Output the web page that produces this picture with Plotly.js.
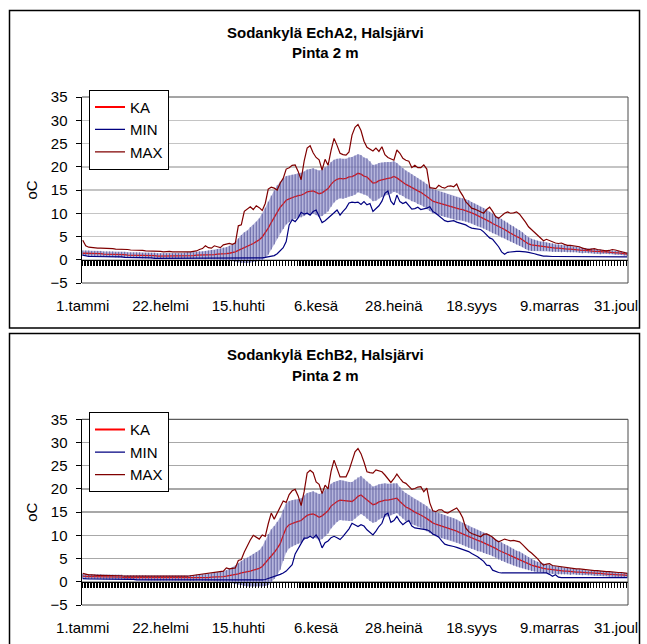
<!DOCTYPE html>
<html>
<head>
<meta charset="utf-8">
<script src="https://cdn.plot.ly/plotly-3.0.1.min.js"></script>
<style>html,body{margin:0;padding:0;background:#fff;}#chart{width:647px;height:644px;}</style>
</head>
<body>
<div id="chart"></div>
<script>
// ---------- DATA (values read every 2nd day: day 1, 3, 5, ..., 365) ----------
const tickDays = [1, 53, 105, 157, 209, 261, 313, 365];
const tickLabels = ["1.tammi", "22.helmi", "15.huhti", "6.kesä", "28.heinä", "18.syys", "9.marras", "31.joul"];
const seriesNames = ["KA", "MIN", "MAX"];
const titleA = ["Sodankylä EchA2, Halsjärvi", "Pinta 2 m"];
const titleB = ["Sodankylä EchB2, Halsjärvi", "Pinta 2 m"];

const A_KA = [
 1.4,1.4,1.4,1.3,1.3,1.3,1.3,1.2,1.2,1.2,
 1.2,1.1,1.1,1.1,1.1,1.0,1.0,1.0,1.0,1.0,
 0.9,0.9,0.9,0.9,0.9,0.8,0.8,0.8,0.8,0.8,
 0.8,0.8,0.8,0.8,0.9,0.9,0.9,0.9,1.0,1.0,
 1.0,1.0,1.1,1.1,1.1,1.2,1.2,1.3,1.3,1.4,
 1.5,1.7,2.0,2.3,2.6,2.8,3.2,3.5,3.9,4.3,
 4.9,5.8,6.8,8.0,9.1,10.3,11.3,12.0,12.8,13.1,
 13.4,13.6,13.8,13.9,14.2,14.6,14.7,14.8,14.5,14.2,
 14.4,14.9,15.3,16.2,16.9,17.3,17.5,17.4,17.5,17.8,
 17.9,18.2,18.6,18.4,18.0,17.8,17.2,16.5,16.6,17.0,
 17.2,17.4,17.5,17.6,17.9,17.6,17.1,16.7,16.2,15.9,
 15.5,15.2,14.8,14.5,14.1,13.6,13.1,12.6,12.4,12.2,
 12.0,11.8,11.6,11.4,11.2,11.0,10.9,10.8,10.6,10.4,
 10.1,9.8,9.5,9.2,8.9,8.6,8.2,7.8,7.5,7.2,
 6.8,6.5,6.1,5.7,5.4,5.0,4.7,4.3,3.8,3.4,
 3.2,3.1,3.0,2.9,2.9,2.8,2.7,2.6,2.5,2.5,
 2.4,2.4,2.3,2.3,2.2,2.2,2.1,2.0,2.0,1.9,
 1.9,1.8,1.8,1.7,1.7,1.7,1.6,1.6,1.5,1.5,
 1.4,1.3,1.2];
const A_SD = [
 0.6,0.6,0.6,0.6,0.6,0.6,0.6,0.6,0.6,0.6,
 0.6,0.6,0.6,0.6,0.6,0.6,0.6,0.6,0.6,0.6,
 0.6,0.6,0.6,0.6,0.6,0.6,0.6,0.6,0.6,0.6,
 0.6,0.6,0.6,0.6,0.6,0.7,0.7,0.7,0.7,0.8,
 0.8,0.9,0.9,1.0,1.0,1.1,1.2,1.3,1.4,1.6,
 1.8,2.1,2.6,3.0,3.3,3.5,3.8,4.0,4.3,4.6,
 5.0,5.4,5.7,5.8,5.8,5.7,5.5,5.4,5.2,5.0,
 4.9,4.8,4.8,4.8,4.8,4.8,4.8,4.9,4.9,5.0,
 5.0,5.0,4.9,4.8,4.6,4.4,4.3,4.3,4.2,4.2,
 4.2,4.2,4.1,4.1,4.0,4.0,4.0,3.9,3.9,3.8,
 3.7,3.6,3.5,3.4,3.3,3.2,3.1,3.0,3.0,2.9,
 2.9,2.8,2.8,2.7,2.7,2.7,2.6,2.6,2.6,2.6,
 2.6,2.6,2.5,2.5,2.5,2.5,2.4,2.4,2.4,2.4,
 2.3,2.3,2.3,2.2,2.2,2.2,2.1,2.1,2.0,2.0,
 2.0,1.9,1.9,1.8,1.8,1.7,1.7,1.6,1.5,1.4,
 1.3,1.2,1.1,1.0,1.0,0.9,0.9,0.9,0.8,0.8,
 0.8,0.7,0.7,0.7,0.6,0.6,0.6,0.6,0.5,0.5,
 0.5,0.5,0.5,0.5,0.4,0.4,0.4,0.4,0.4,0.4,
 0.4,0.4,0.4];
const A_MIN = [
 1.0,0.8,0.7,0.7,0.7,0.6,0.6,0.6,0.6,0.6,
 0.6,0.6,0.6,0.6,0.5,0.5,0.5,0.5,0.5,0.5,
 0.5,0.5,0.4,0.4,0.3,0.3,0.3,0.3,0.3,0.3,
 0.3,0.3,0.3,0.3,0.3,0.3,0.3,0.3,0.3,0.3,
 0.3,0.3,0.3,0.3,0.3,0.3,0.3,0.3,0.3,0.3,
 0.3,0.3,0.3,0.3,0.3,0.3,0.3,0.3,0.3,0.3,
 0.4,0.5,0.6,0.7,0.9,1.3,1.9,2.6,3.9,7.5,
 8.6,8.2,9.0,10.2,9.8,10.0,9.6,10.4,10.7,9.3,
 8.0,8.4,8.9,9.6,10.1,10.7,9.6,10.4,11.1,12.2,
 12.4,12.3,12.4,11.9,12.5,11.8,12.1,10.4,11.0,11.6,
 12.6,14.3,14.8,12.6,11.8,13.9,12.5,12.1,12.4,11.6,
 10.9,11.0,11.3,10.8,10.9,11.1,11.4,10.4,10.0,9.5,
 9.0,8.4,8.2,8.3,8.4,8.1,7.9,7.7,7.5,7.1,
 6.8,6.7,6.6,6.5,6.0,5.3,4.7,4.4,3.7,2.8,
 1.7,1.2,1.6,1.7,1.8,1.8,1.8,1.8,1.7,1.6,
 1.5,1.3,1.1,0.9,0.8,0.8,0.7,0.7,0.7,0.7,
 0.7,0.7,0.7,0.6,0.6,0.6,0.6,0.6,0.6,0.6,
 0.6,0.6,0.6,0.6,0.6,0.6,0.6,0.6,0.6,0.6,
 0.6,0.6,0.6];
const A_MAX = [
 4.2,3.0,2.7,2.6,2.6,2.5,2.5,2.5,2.4,2.4,
 2.4,2.3,2.3,2.3,2.2,2.2,2.1,2.1,2.0,2.0,
 2.0,1.9,1.9,1.8,1.8,1.8,1.8,1.7,1.8,1.8,
 1.7,1.7,1.6,1.6,1.6,1.6,1.7,1.8,1.9,2.2,
 2.4,3.0,2.6,2.5,3.0,2.8,2.6,3.2,3.4,3.5,
 3.3,3.6,7.3,7.5,10.4,11.0,11.4,10.8,11.6,11.2,
 10.6,12.1,15.2,15.6,15.4,15.0,16.5,17.5,19.5,19.8,
 20.3,20.4,19.0,17.2,21.2,24.0,24.5,23.0,22.0,21.5,
 19.3,21.6,20.3,23.5,26.1,24.6,22.9,22.6,22.5,23.2,
 26.8,28.5,29.1,27.8,25.5,24.2,23.7,23.4,24.0,23.3,
 24.3,22.6,22.0,21.7,21.4,23.6,22.9,21.8,21.4,21.2,
 19.8,20.3,19.8,19.8,20.4,19.5,15.5,15.4,15.3,16.0,
 15.6,15.4,15.8,15.9,15.7,16.3,14.8,13.8,12.5,11.8,
 11.1,10.9,10.6,10.3,10.0,10.8,11.3,10.4,9.3,8.9,
 9.5,10.0,10.3,10.0,10.1,10.3,9.8,9.0,8.1,7.1,
 6.5,5.8,5.2,4.5,4.1,4.4,4.1,3.9,3.6,3.5,
 3.6,3.3,3.1,3.1,3.0,2.9,2.8,2.5,2.4,2.2,
 2.3,2.4,2.2,2.1,2.0,1.9,2.0,2.2,2.1,1.9,
 1.8,1.6,1.4];

const B_KA = [
 1.2,1.1,1.1,1.1,1.1,1.1,1.1,1.0,1.0,1.0,
 1.0,1.0,1.0,1.0,0.9,0.9,0.9,0.9,0.9,0.9,
 0.9,0.9,0.8,0.8,0.8,0.8,0.8,0.8,0.8,0.8,
 0.8,0.8,0.8,0.8,0.8,0.8,0.8,0.8,0.9,0.9,
 0.9,0.9,0.9,1.0,1.0,1.0,1.1,1.1,1.2,1.3,
 1.4,1.5,1.7,1.9,2.0,2.1,2.3,2.5,2.7,2.9,
 3.3,4.0,4.8,5.6,6.3,7.2,8.2,10.0,11.6,12.3,
 12.6,12.8,13.0,13.2,13.8,14.3,14.5,14.6,14.3,13.9,
 14.2,14.8,15.3,16.3,16.9,17.3,17.6,17.5,17.4,17.3,
 17.3,17.8,18.4,18.7,18.2,17.6,17.1,16.6,16.8,17.2,
 17.4,17.6,17.6,17.7,17.9,18.0,17.3,16.6,16.1,15.8,
 15.3,15.0,14.7,14.4,14.0,13.6,13.1,12.7,12.4,12.2,
 12.0,11.8,11.6,11.4,11.2,10.9,10.6,10.3,10.0,9.7,
 9.4,9.2,8.9,8.7,8.4,8.2,7.9,7.6,7.2,6.8,
 6.5,6.2,5.9,5.6,5.3,5.0,4.8,4.5,4.2,3.9,
 3.6,3.4,3.2,3.1,2.9,2.8,2.7,2.6,2.5,2.4,
 2.4,2.3,2.3,2.2,2.2,2.1,2.1,2.0,2.0,1.9,
 1.9,1.8,1.8,1.8,1.7,1.7,1.6,1.6,1.5,1.5,
 1.5,1.4,1.4];
const B_SD = [
 0.5,0.5,0.5,0.5,0.5,0.5,0.5,0.5,0.5,0.5,
 0.5,0.5,0.5,0.5,0.5,0.5,0.5,0.5,0.5,0.5,
 0.5,0.5,0.5,0.5,0.5,0.5,0.5,0.5,0.5,0.5,
 0.5,0.5,0.5,0.5,0.5,0.5,0.6,0.6,0.6,0.6,
 0.7,0.7,0.8,0.8,0.9,1.0,1.1,1.2,1.3,1.5,
 1.7,2.0,2.3,2.6,2.9,3.1,3.3,3.5,3.7,3.9,
 4.3,4.9,5.5,5.7,5.7,5.7,5.6,5.5,5.3,5.1,
 5.0,4.9,4.8,4.8,4.8,4.8,4.8,4.9,4.9,5.0,
 5.0,5.0,4.9,4.8,4.6,4.4,4.3,4.3,4.2,4.2,
 4.2,4.2,4.1,4.1,4.0,4.0,4.0,3.9,3.9,3.8,
 3.7,3.6,3.5,3.4,3.3,3.2,3.1,3.0,3.0,2.9,
 2.9,2.8,2.8,2.7,2.7,2.7,2.6,2.6,2.6,2.6,
 2.6,2.6,2.5,2.5,2.5,2.5,2.4,2.4,2.4,2.4,
 2.3,2.3,2.3,2.2,2.2,2.2,2.1,2.1,2.0,2.0,
 2.0,1.9,1.9,1.8,1.8,1.7,1.7,1.6,1.5,1.4,
 1.3,1.2,1.1,1.0,1.0,0.9,0.9,0.9,0.8,0.8,
 0.8,0.7,0.7,0.7,0.6,0.6,0.6,0.6,0.5,0.5,
 0.5,0.5,0.5,0.5,0.5,0.5,0.5,0.5,0.5,0.5,
 0.5,0.5,0.5];
const B_MIN = [
 0.7,0.6,0.6,0.6,0.6,0.6,0.6,0.6,0.6,0.6,
 0.6,0.5,0.5,0.5,0.5,0.5,0.5,0.5,0.4,0.4,
 0.4,0.4,0.4,0.4,0.4,0.4,0.4,0.4,0.4,0.4,
 0.4,0.4,0.4,0.4,0.4,0.4,0.4,0.4,0.4,0.4,
 0.4,0.4,0.4,0.4,0.4,0.4,0.4,0.4,0.4,0.4,
 0.3,0.3,0.3,0.3,0.3,0.3,0.3,0.3,0.3,0.3,
 0.4,0.5,0.7,0.9,1.2,1.4,1.6,1.9,2.3,3.0,
 3.7,6.0,7.2,8.2,9.4,9.4,9.8,9.4,10.1,9.1,
 7.3,8.4,8.8,9.5,9.8,9.5,9.1,9.8,10.5,11.4,
 12.6,12.2,11.9,12.3,12.0,11.2,10.6,10.1,10.9,11.9,
 12.6,14.4,14.8,12.8,13.2,14.1,13.0,12.3,12.8,13.2,
 12.0,11.6,11.5,11.4,11.3,11.2,10.9,10.3,10.0,9.6,
 8.8,8.1,7.9,7.8,7.6,7.4,7.2,7.0,6.8,6.5,
 6.1,5.8,5.4,4.9,4.4,3.6,3.5,2.5,2.2,2.0,
 1.9,1.9,1.9,1.9,1.9,1.9,1.9,1.9,1.9,1.9,
 1.9,2.0,2.0,1.9,1.9,1.9,1.6,1.2,1.5,1.0,
 0.9,0.9,0.9,0.9,0.9,0.9,0.9,0.9,0.9,0.9,
 0.9,0.9,0.9,0.9,0.9,0.9,0.9,0.9,0.9,0.9,
 0.9,0.9,0.9];
const B_MAX = [
 1.8,1.6,1.5,1.5,1.4,1.4,1.4,1.4,1.4,1.4,
 1.4,1.4,1.3,1.3,1.2,1.2,1.2,1.2,1.2,1.1,
 1.1,1.1,1.1,1.1,1.1,1.1,1.1,1.1,1.1,1.1,
 1.1,1.1,1.1,1.1,1.2,1.2,1.3,1.4,1.5,1.6,
 1.7,1.8,1.9,2.0,2.1,2.2,2.2,2.3,3.0,2.8,
 2.9,3.0,4.6,4.8,6.4,7.8,9.0,10.0,9.6,9.2,
 10.1,9.8,12.5,14.8,13.5,14.7,15.9,17.4,17.1,18.8,
 19.6,19.9,18.5,16.4,19.4,23.4,24.0,23.5,21.5,21.0,
 19.0,20.8,20.0,23.8,26.2,24.2,22.6,22.6,22.6,24.0,
 25.9,28.0,28.7,27.6,25.8,23.7,23.5,23.4,24.1,23.9,
 23.7,23.0,22.3,21.4,22.2,23.2,22.3,21.5,21.2,20.6,
 19.9,20.1,20.4,20.5,19.4,20.2,17.0,15.3,15.1,15.5,
 15.5,15.0,14.8,15.2,15.6,15.9,15.0,13.8,11.6,10.8,
 10.4,10.2,9.9,9.7,10.2,10.3,10.0,9.6,9.0,8.6,
 8.9,9.2,9.0,8.8,8.9,8.8,8.6,8.0,7.3,6.7,
 6.2,5.7,5.0,4.2,3.6,3.8,3.9,3.5,3.4,3.3,
 3.2,3.1,3.0,2.9,2.9,2.8,2.8,2.7,2.6,2.5,
 2.5,2.4,2.4,2.3,2.3,2.2,2.2,2.1,2.1,2.0,
 2.0,1.9,1.8];

// ---------- helpers (layout only) ----------
const days = A_KA.map((_, i) => 1 + 2 * i);          // day-of-year position of each reading
const W = 647, H = 644, ML = 82, MR = 19, MT = 97, MB = 39;
const PW = W - ML - MR, PH = H - MT - MB;
const X = px => (px - ML) / PW;                     // pixel -> paper x
const Y = py => (H - MB - py) / PH;                 // pixel -> paper y
const FONT = "Liberation Sans, Arial, Helvetica, sans-serif";
const C_KA = "#ff0000", C_MIN = "#000080", C_MAX = "#800000";
const nT = tickLabels.length;

function panelTraces(ka, sd, mn, mx, xa, ya, leg) {
  const up = ka.map((v, i) => v + sd[i]);
  const lo = ka.map((v, i) => v - sd[i]);
  return [
    {x: days, y: up, xaxis: xa, yaxis: ya, mode: "lines", line: {width: 0, color: "rgba(0,0,0,0)"},
     showlegend: false, hoverinfo: "skip"},
    {x: days, y: lo, xaxis: xa, yaxis: ya, mode: "lines", line: {width: 0, color: "rgba(0,0,0,0)"},
     fill: "tonexty", fillcolor: "rgba(150,150,205,0.7)", showlegend: false, hoverinfo: "skip"},
    {x: days, y: ka, xaxis: xa, yaxis: ya, mode: "lines", line: {color: "#e01010", width: 1.3},
     showlegend: false, hoverinfo: "skip"},
    {x: days, y: ka, xaxis: xa, yaxis: ya, mode: "markers", marker: {size: 1, opacity: 0},
     error_y: {type: "data", array: sd, visible: true, color: "rgba(80,80,150,0.8)", thickness: 1, width: 0},
     showlegend: false, hoverinfo: "skip"},
    {x: [null], y: [null], xaxis: xa, yaxis: ya, mode: "lines", name: seriesNames[0], legend: leg,
     line: {color: C_KA, width: 2}},
    {x: days, y: mn, xaxis: xa, yaxis: ya, mode: "lines", name: seriesNames[1], legend: leg,
     line: {color: C_MIN, width: 1.2}},
    {x: days, y: mx, xaxis: xa, yaxis: ya, mode: "lines", name: seriesNames[2], legend: leg,
     line: {color: C_MAX, width: 1.2}}
  ];
}

const data = [].concat(
  panelTraces(A_KA, A_SD, A_MIN, A_MAX, "x", "y", "legend"),
  panelTraces(B_KA, B_SD, B_MIN, B_MAX, "x2", "y2", "legend2"),
  [{x: [1], y: [null], xaxis: "x3", yaxis: "y", mode: "lines", showlegend: false, hoverinfo: "skip"},
   {x: [1], y: [null], xaxis: "x4", yaxis: "y2", mode: "lines", showlegend: false, hoverinfo: "skip"}]
);

const domTop = [Y(283), 1];
const domBot = [0, Y(419.3)];
const zeroPos = d => d[0] + (d[1] - d[0]) * (5 / 40);

// the last label touches the chart box edge in the original; it is placed as a right-aligned text
function xMain(anchor) {
  return {domain: [0, 1], anchor: anchor, range: [0.5, 365.5], tickmode: "array",
    tickvals: tickDays.slice(0, nT - 1), ticktext: tickLabels.slice(0, nT - 1),
    showgrid: false, zeroline: false, showline: false,
    ticks: "", ticklabelstandoff: 12,
    tickfont: {family: FONT, size: 15, color: "#000"}, fixedrange: true};
}
function xDense(over, pos) {
  return {overlaying: over, anchor: "free", position: pos, range: [0.5, 365.5], tick0: 0.5, dtick: 2,
    ticks: "outside", ticklen: 5, tickwidth: 1.8, tickcolor: "#000", showticklabels: false,
    showgrid: false, zeroline: false, showline: true, linecolor: "#000", linewidth: 1.5, side: "bottom"};
}
function yMain(dom, anchor, grid) {
  return {domain: dom, anchor: anchor, range: [-5, 35], dtick: 5, tick0: 0, showgrid: true,
    gridcolor: grid, gridwidth: 1.5, zeroline: false, showline: true, linecolor: "#000", linewidth: 1.5,
    ticks: "outside", ticklen: 5, tickcolor: "#000", ticklabelstandoff: 5,
    tickfont: {family: FONT, size: 15, color: "#000"},
    title: {text: "oC", font: {family: FONT, size: 15, color: "#000"}, standoff: 9}};
}

function legendAt(pyTop) {
  return {x: X(89), y: Y(pyTop), xanchor: "left", yanchor: "top", bgcolor: "#fff",
    bordercolor: "#000", borderwidth: 1, font: {family: FONT, size: 15, color: "#000"},
    traceorder: "normal", itemwidth: 30};
}

function hline(x0, x1, py, color, w) {
  return {type: "line", xref: "paper", yref: "paper", x0: X(x0), x1: X(x1), y0: Y(py), y1: Y(py),
    line: {color: color, width: w}, layer: "above"};
}
function vline(px, y0, y1, color, w) {
  return {type: "line", xref: "paper", yref: "paper", x0: X(px), x1: X(px), y0: Y(y0), y1: Y(y1),
    line: {color: color, width: w}, layer: "above"};
}

const shapes = [
  hline(82, 628, 97, "#4a4a4a", 1), vline(628, 97, 283, "#4a4a4a", 1), hline(82, 628, 283, "#4a4a4a", 1),
  hline(82, 628, 419.3, "#333333", 1), vline(628, 419.3, 605, "#4a4a4a", 1), hline(82, 628, 605, "#4a4a4a", 1),
  {type: "rect", xref: "paper", yref: "paper", x0: X(9.5), x1: X(639.5), y0: Y(328), y1: Y(10.5),
   line: {color: "#000", width: 1.5}, fillcolor: "rgba(0,0,0,0)", layer: "above"},
  {type: "rect", xref: "paper", yref: "paper", x0: X(9.5), x1: X(639.5), y0: Y(700), y1: Y(333.5),
   line: {color: "#000", width: 1.5}, fillcolor: "rgba(0,0,0,0)", layer: "above"}
];

function titleAnn(text, py) {
  return {xref: "paper", yref: "paper", x: X(325), y: Y(py), xanchor: "center", yanchor: "middle",
    text: "<b>" + text + "</b>", showarrow: false, font: {family: FONT, size: 15, color: "#000"}};
}
function lastTick(py) {
  return {xref: "paper", yref: "paper", x: X(639), y: Y(py), xanchor: "right", yanchor: "middle",
    text: tickLabels[nT - 1], showarrow: false, borderpad: 0,
    font: {family: FONT, size: 15, color: "#000"}};
}

const layout = {
  width: W, height: H,
  margin: {l: ML, r: MR, t: MT, b: MB, pad: 0},
  paper_bgcolor: "#fff", plot_bgcolor: "#fff",
  font: {family: FONT, color: "#000"},
  showlegend: true,
  xaxis: xMain("y"),
  yaxis: yMain(domTop, "x", "#c4c4c4"),
  xaxis2: xMain("y2"),
  yaxis2: yMain(domBot, "x2", "#a8a8a8"),
  xaxis3: xDense("x", zeroPos(domTop)),
  xaxis4: xDense("x2", zeroPos(domBot)),
  legend: legendAt(89.7),
  legend2: legendAt(412.3),
  shapes: shapes,
  annotations: [titleAnn(titleA[0], 32), titleAnn(titleA[1], 53), titleAnn(titleB[0], 354.5), titleAnn(titleB[1], 375.5),
    lastTick(305.5), lastTick(627.5)]
};

Plotly.newPlot("chart", data, layout, {staticPlot: true, displayModeBar: false});
</script>
</body>
</html>
